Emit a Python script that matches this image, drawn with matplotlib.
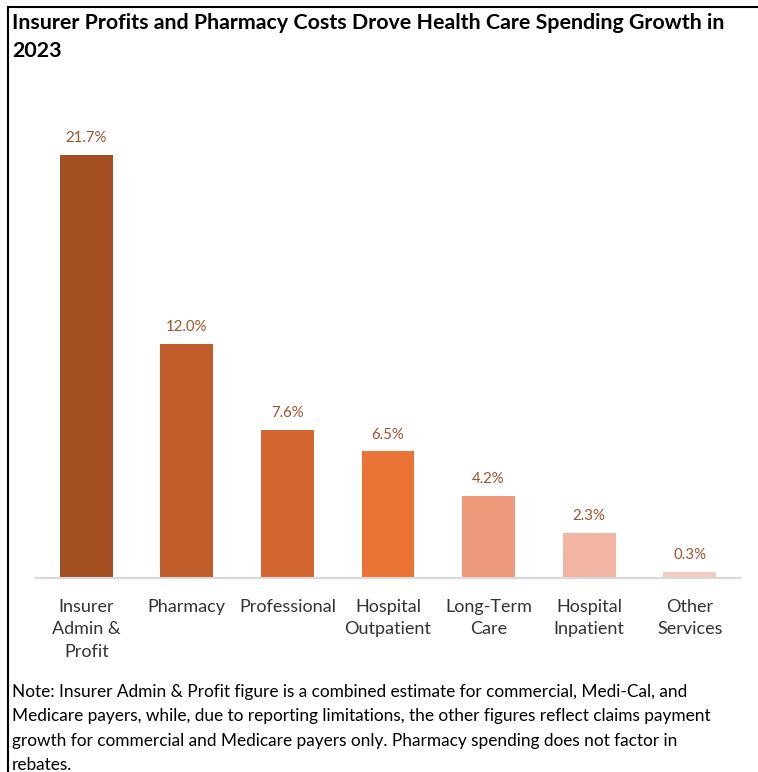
import matplotlib.pyplot as plt
import numpy as np

plt.rcParams['font.family'] = ['Lato', 'DejaVu Sans']

categories = ["Insurer\nAdmin &\nProfit", "Pharmacy", "Professional", "Hospital\nOutpatient",
              "Long-Term\nCare", "Hospital\nInpatient", "Other\nServices"]
growth = [21.7, 12.0, 7.6, 6.5, 4.2, 2.3, 0.3]
colors = ["#A44F22", "#C05B2A", "#D4662F", "#E97436", "#EE9A7D", "#F2B4A3", "#F4CBC0"]

title = "Insurer Profits and Pharmacy Costs Drove Health Care Spending Growth in\n2023"
note = ("Note: Insurer Admin & Profit figure is a combined estimate for commercial, Medi-Cal, and\n"
        "Medicare payers, while, due to reporting limitations, the other figures reflect claims payment\n"
        "growth for commercial and Medicare payers only. Pharmacy spending does not factor in\n"
        "rebates.")

fig = plt.figure(figsize=(7.58, 7.72), dpi=100)
ax = fig.add_axes([36/758, 1 - 578/772, 704/758, 423/772 * 24.5/21.7])

x = np.arange(len(categories))
ax.bar(x, growth, width=0.525, color=colors)
for xi, v in zip(x, growth):
    ax.text(xi, v + 0.5, f"{v:.1f}%", ha='center', va='bottom', fontsize=10.8, color="#A0522D")

ax.set_xlim(-0.5, len(categories) - 0.5)
ax.set_ylim(0, 24.5)
ax.set_xticks(x)
ax.set_xticklabels(categories, fontsize=13, color="#333333", linespacing=1.5)
ax.tick_params(axis='x', length=0, pad=15)
ax.set_yticks([])
for s in ['top', 'right', 'left']:
    ax.spines[s].set_visible(False)
ax.spines['bottom'].set_color("#D9D9D9")
ax.spines['bottom'].set_linewidth(1.5)

fig.text(12/758, 1 - 13/772, title, ha='left', va='top', fontsize=15.4, fontweight='bold',
         color="black", linespacing=1.5)
fig.text(12/758, 1 - 684/772, note, ha='left', va='top', fontsize=12.4, color="black",
         linespacing=1.65)

# frame lines on the left and top edges
fig.add_artist(plt.Line2D([8/758, 8/758], [0, 1 - 7/772], color="black", lw=1.5))
fig.add_artist(plt.Line2D([8/758, 1], [1 - 7/772, 1 - 7/772], color="black", lw=1.5))

fig.savefig("out.png", dpi=100)
